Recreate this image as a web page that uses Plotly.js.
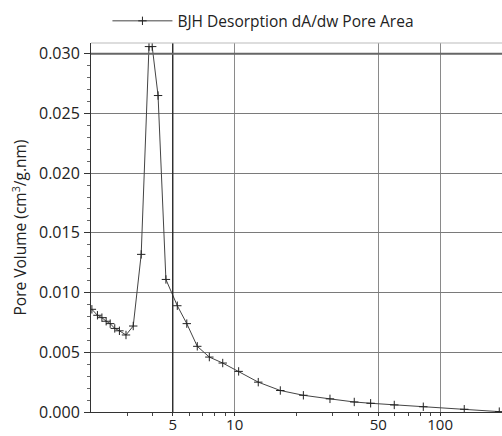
<!DOCTYPE html>
<html>
<head>
<meta charset="utf-8">
<script src="https://cdn.plot.ly/plotly-3.0.1.min.js"></script>
<style>html,body{margin:0;padding:0;background:#fff;}#chart{width:502px;height:436px;}</style>
</head>
<body>
<div id="chart"></div>
<script>
const seriesName = "BJH Desorption dA/dw Pore Area";
const poreWidth = [2.02, 2.15, 2.26, 2.37, 2.48, 2.61, 2.75, 2.96, 3.21, 3.51, 3.83, 3.97, 4.24, 4.63, 5.26, 5.85, 6.58, 7.53, 8.75, 10.46, 13.03, 16.68, 21.6, 29.1, 38.2, 45.9, 59.8, 82.8, 131, 194];
const poreVolume = [0.0086, 0.0081, 0.0079, 0.0076, 0.0074, 0.0070, 0.0068, 0.00645, 0.0072, 0.0132, 0.0306, 0.0306, 0.0265, 0.0111, 0.0089, 0.0074, 0.0055, 0.0046, 0.0041, 0.0034, 0.0025, 0.0018, 0.0014, 0.0011, 0.00084, 0.00073, 0.00059, 0.00044, 0.00023, 0.00003];
const xTickVals = [5, 10, 50, 100];
const xTickText = ["5", "10", "50", "100"];
const xMinorVals = [3, 4, 6, 7, 8, 9, 20, 30, 40, 60, 70, 80, 90];
const yTickVals = [0, 0.005, 0.010, 0.015, 0.020, 0.025, 0.030];
const yTickText = ["0.000", "0.005", "0.010", "0.015", "0.020", "0.025", "0.030"];

const font = "'Open Sans', sans-serif";

const trace = {
  x: poreWidth, y: poreVolume, name: seriesName,
  type: "scatter", mode: "lines+markers",
  line: {color: "#444", width: 1},
  marker: {symbol: "cross-thin", size: 6, color: "#222", line: {color: "#222", width: 1}},
  showlegend: true
};

const layout = {
  width: 502, height: 436,
  margin: {l: 91, r: 0, t: 43, b: 24},
  paper_bgcolor: "#fff", plot_bgcolor: "#fff",
  font: {family: font, size: 14, color: "#222"},
  showlegend: true,
  legend: {orientation: "h", x: 0.04, xanchor: "left", y: 1.105, yanchor: "top",
           font: {family: font, size: 15.5, color: "#222"}, itemwidth: 60, bgcolor: "rgba(0,0,0,0)"},
  xaxis: {
    type: "log", range: [Math.log10(2), Math.log10(200)],
    tickmode: "array", tickvals: xTickVals, ticktext: xTickText,
    ticks: "outside", ticklen: 3, tickcolor: "#333",
    ticklabelstandoff: -4,
    showgrid: true, gridcolor: "#8a8a8a", gridwidth: 1,
    showline: true, linecolor: "#333", linewidth: 1,
    zeroline: false,
    tickfont: {family: font, size: 15, color: "#222"},
    minor: {tickmode: "array", tickvals: xMinorVals, ticks: "outside", ticklen: 3, tickcolor: "#444", showgrid: false}
  },
  yaxis: {
    range: [0, 0.0309],
    tickmode: "array", tickvals: yTickVals, ticktext: yTickText,
    ticks: "outside", ticklen: 6, tickcolor: "#333",
    ticklabelstandoff: 1,
    showgrid: true, gridcolor: "#7a7a7a", gridwidth: 1,
    showline: true, linecolor: "#333", linewidth: 1,
    zeroline: false,
    tickfont: {family: font, size: 16, color: "#222"},
    title: {text: "Pore Volume (cm<sup>3</sup>/g.nm)", font: {family: font, size: 15.5, color: "#222"}, standoff: 8},
    minor: {dtick: 0.001, ticks: "outside", ticklen: 3, tickcolor: "#666", showgrid: false}
  },
  shapes: [
    {type: "line", xref: "x", yref: "paper", x0: 5, x1: 5, y0: 0, y1: 1, line: {color: "#222", width: 1.3}},
    {type: "line", xref: "paper", yref: "y", x0: 0, x1: 1, y0: 0.030, y1: 0.030, line: {color: "#666", width: 2}},
    {type: "line", xref: "paper", yref: "paper", x0: 0, x1: 1, y0: 1, y1: 1, line: {color: "#bbb", width: 1}}
  ]
};

Plotly.newPlot("chart", [trace], layout, {staticPlot: true, displayModeBar: false});
</script>
</body>
</html>
